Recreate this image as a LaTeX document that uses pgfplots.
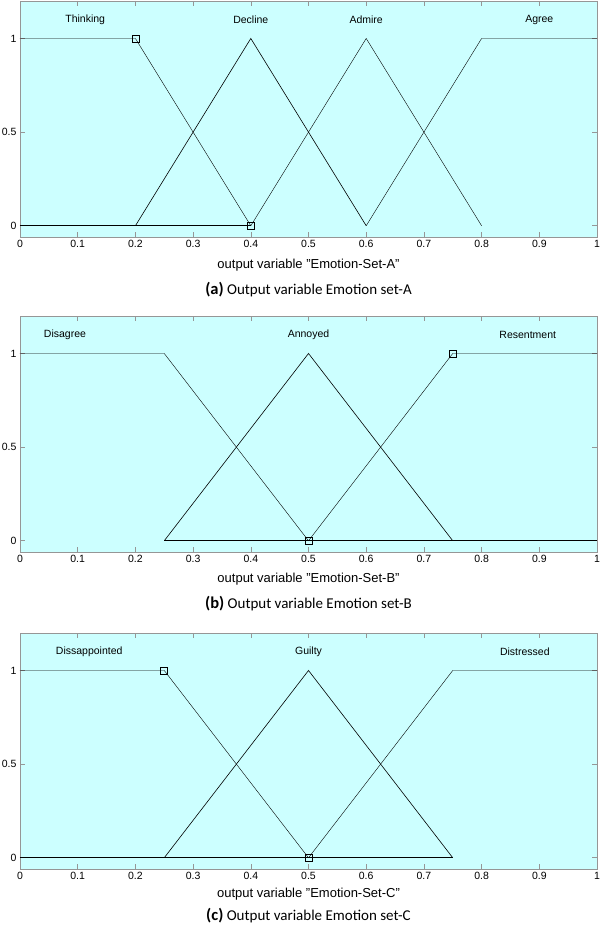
\documentclass[border=0pt]{standalone}
\usepackage{fontspec}
\setmainfont{Liberation Sans}
\newfontfamily\capfont{Carlito}
\usepackage{pgfplots}
\pgfplotsset{compat=1.18}
\definecolor{bgcyan}{RGB}{204,255,255}
\definecolor{frame}{RGB}{150,150,150}
\pgfplotsset{mfstyle/.style={
  width=577pt,height=236pt,scale only axis,
  xmin=0,xmax=1,ymin=-0.06,ymax=1.2,
  xtick={0,0.1,0.2,0.3,0.4,0.5,0.6,0.7,0.8,0.9,1},
  xticklabels={0,0.1,0.2,0.3,0.4,0.5,0.6,0.7,0.8,0.9,1},
  ytick={0,0.5,1}, yticklabels={0,0.5,1},
  axis background/.style={fill=bgcyan},
  axis line style={draw=frame},
  tick style={draw=frame,line width=0.6pt},
  tick align=inside, major tick length=5pt,
  xtick pos=both, xticklabel pos=lower,
  ytick pos=both, yticklabel pos=left,
  tick label style={font=\fontsize{10.5}{12}\selectfont},
  /pgf/number format/assume math mode=true,
  clip=false,
  cycle list={{black,line width=0.6pt,mark=none}},
}}
\tikzset{mflab/.style={font=\fontsize{10.5}{12}\selectfont},
  mfxlab/.style={font=\fontsize{13}{15}\selectfont},
  mfcap/.style={font=\capfont\fontsize{15}{17}\selectfont}}
\newcommand{\capl}[1]{{\fontsize{16.5}{18}\selectfont\bfseries (#1)}}
\begin{document}
\begin{tikzpicture}
\useasboundingbox (0,0) rectangle (600pt,-925pt);
% ---------------- (a)
\begin{axis}[mfstyle, at={(20pt,-1pt)}, anchor=north west]
\addplot coordinates {(0,1) (0.2,1) (0.4,0)};
\addplot coordinates {(0.2,0) (0.4,1) (0.6,0)};
\addplot coordinates {(0.4,0) (0.6,1) (0.8,0)};
\addplot coordinates {(0.6,0) (0.8,1) (1,1)};
\addplot[black, line width=1pt] coordinates {(0,0) (0.4,0)};
\addplot[black, only marks, mark=square, mark size=3.5pt, mark options={line width=0.7pt}] coordinates {(0.2,1) (0.4,0)};
\node[mflab] at (axis cs:0.113,1.10) {Thinking};
\node[mflab] at (axis cs:0.40,1.10) {Decline};
\node[mflab] at (axis cs:0.60,1.10) {Admire};
\node[mflab] at (axis cs:0.90,1.10) {Agree};
\node[mfxlab] at (rel axis cs:0.5,0) [yshift=-28pt] {output variable "Emotion-Set-A"};
\node[mfcap] at (rel axis cs:0.5,0) [yshift=-53pt] {\capl{a} Output variable Emotion set-A};
\end{axis}
% ---------------- (b)
\begin{axis}[mfstyle, at={(20pt,-316pt)}, anchor=north west]
\addplot coordinates {(0,1) (0.25,1) (0.5,0)};
\addplot coordinates {(0.25,0) (0.5,1) (0.75,0)};
\addplot coordinates {(0.5,0) (0.75,1) (1,1)};
\addplot[black, line width=1pt] coordinates {(0.25,0) (1,0)};
\addplot[black, only marks, mark=square, mark size=3.5pt, mark options={line width=0.7pt}] coordinates {(0.5,0) (0.75,1)};
\node[mflab] at (axis cs:0.078,1.10) {Disagree};
\node[mflab] at (axis cs:0.50,1.10) {Annoyed};
\node[mflab] at (axis cs:0.88,1.10) {Resentment};
\node[mfxlab] at (rel axis cs:0.5,0) [yshift=-27pt] {output variable "Emotion-Set-B"};
\node[mfcap] at (rel axis cs:0.5,0) [yshift=-52pt] {\capl{b} Output variable Emotion set-B};
\end{axis}
% ---------------- (c)
\begin{axis}[mfstyle, at={(20pt,-633pt)}, anchor=north west]
\addplot coordinates {(0,1) (0.25,1) (0.5,0)};
\addplot coordinates {(0.25,0) (0.5,1) (0.75,0)};
\addplot coordinates {(0.5,0) (0.75,1) (1,1)};
\addplot[black, line width=1pt] coordinates {(0,0) (0.75,0)};
\addplot[black, only marks, mark=square, mark size=3.5pt, mark options={line width=0.7pt}] coordinates {(0.25,1) (0.5,0)};
\node[mflab] at (axis cs:0.12,1.10) {Dissappointed};
\node[mflab] at (axis cs:0.50,1.10) {Guilty};
\node[mflab] at (axis cs:0.875,1.10) {Distressed};
\node[mfxlab] at (rel axis cs:0.5,0) [yshift=-25pt] {output variable "Emotion-Set-C"};
\node[mfcap] at (rel axis cs:0.5,0) [yshift=-47pt] {\capl{c} Output variable Emotion set-C};
\end{axis}
\end{tikzpicture}
\end{document}
